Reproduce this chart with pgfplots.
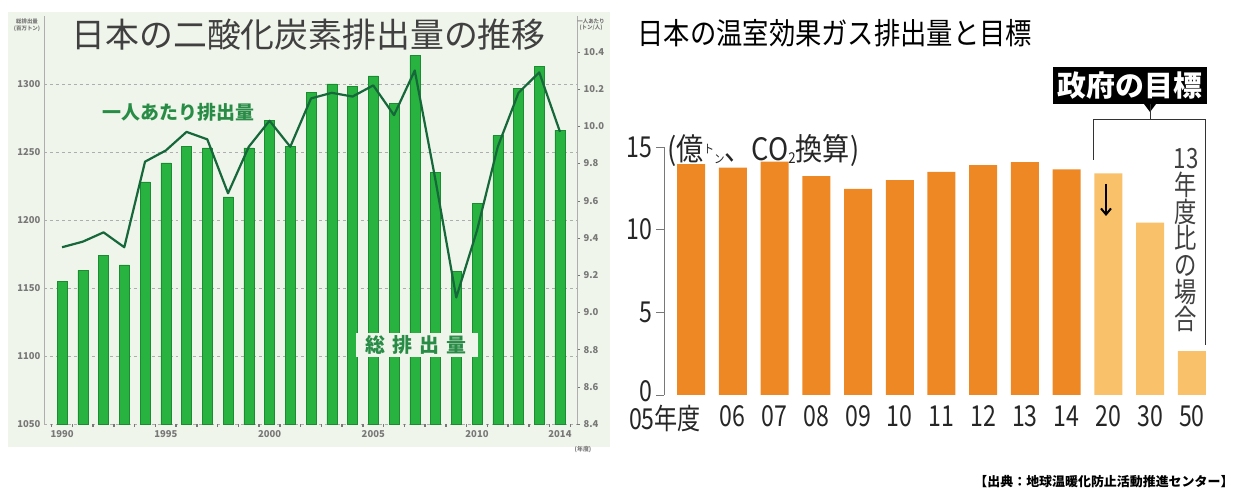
\documentclass[border=0pt]{standalone}
\usepackage{fontspec}
\setmainfont{Noto Sans CJK JP}
\newfontfamily\cond[FakeStretch=0.8]{Noto Sans CJK JP}
\newfontfamily\condt[FakeStretch=0.88]{Noto Sans CJK JP}
\usepackage{pgfplots}
\pgfplotsset{compat=1.18}
\usetikzlibrary{arrows.meta}

\definecolor{bgc}{RGB}{239,245,234}
\definecolor{barg}{RGB}{40,178,64}
\definecolor{barge}{RGB}{28,140,50}
\definecolor{lineg}{RGB}{22,104,58}
\definecolor{labg}{RGB}{40,140,70}
\definecolor{orgd}{RGB}{238,136,36}
\definecolor{orgl}{RGB}{248,193,106}
\definecolor{tickg}{RGB}{120,120,120}

\pgfplotstableread{
year total
1990 1155
1991 1163
1992 1174
1993 1167
1994 1228
1995 1242
1996 1254
1997 1253
1998 1217
1999 1253
2000 1273
2001 1254
2002 1294
2003 1300
2004 1298
2005 1306
2006 1286
2007 1321
2008 1235
2009 1162
2010 1212
2011 1262
2012 1297
2013 1313
2014 1266
}\totaltab

\pgfplotstableread{
year percap
1990 9.35
1991 9.38
1992 9.43
1993 9.35
1994 9.81
1995 9.87
1996 9.97
1997 9.93
1998 9.64
1999 9.89
2000 10.03
2001 9.89
2002 10.15
2003 10.18
2004 10.16
2005 10.22
2006 10.06
2007 10.30
2008 9.71
2009 9.08
2010 9.44
2011 9.89
2012 10.18
2013 10.29
2014 9.97
}\capitatab

\pgfplotstableread{
x val
0 13.97
1 13.75
2 14.12
3 13.24
4 12.46
5 13.00
6 13.50
7 13.90
8 14.08
9 13.64
}\ghgpast

\pgfplotstableread{
x val
10 13.40
11 10.42
12 2.65
}\ghgtarget

\begin{document}
\begin{tikzpicture}[x=1bp,y=1bp]
\path[use as bounding box] (0,0) rectangle (1237,492);
\fill[bgc] (8,45) rectangle (610,480);

% left chart: total emissions (bars)
\begin{axis}[at={(44bp,68bp)}, anchor=south west, scale only axis,
  width=533bp, height=408bp,
  xmin=1989.13, xmax=2014.82, ymin=1050, ymax=1350,
  axis x line*=bottom, axis y line*=left,
  y axis line style={-, tickg!60, line width=0.8bp},
  x axis line style={draw=none},
  ytick={1050,1100,...,1300},
  xtick={1990,1995,2000,2005,2010,2014},
  minor xtick={1989.5,1990.5,...,2014.5},
  major tick length=0pt, minor tick length=3bp, tick align=inside,
  minor x tick style={tickg, line width=1.5bp},
  ymajorgrids, grid style={dashed, tickg!60, line width=0.6bp},
  tick label style={font=\bfseries\fontsize{9.5}{9.5}\selectfont, text=tickg},
  xticklabel style={yshift=-3bp},
  /pgf/number format/assume math mode=true,
  /pgf/number format/1000 sep={},
  ybar, bar width=10bp,
  clip=false]
\addplot[fill=barg, draw=barge, line width=0.5bp, bar shift=0pt] table[x=year, y=total] {\totaltab};
\end{axis}

% left chart: per capita (line, right axis)
\begin{axis}[at={(44bp,68bp)}, anchor=south west, scale only axis,
  width=533bp, height=408bp,
  xmin=1989.13, xmax=2014.82, ymin=8.4, ymax=10.593,
  axis y line*=right, axis x line=none,
  y axis line style={-, tickg!60, line width=0.8bp},
  ytick={8.4,8.6,8.8,9.0,9.2,9.4,9.6,9.8,10.0,10.2,10.4},
  yticklabel style={font=\bfseries\fontsize{9.5}{9.5}\selectfont, text=tickg,
    /pgf/number format/.cd, fixed, fixed zerofill, precision=1},
  ytick style={tickg}, major tick length=3bp, tick align=outside,
  /pgf/number format/assume math mode=true]
\addplot[color=lineg, line width=2.2bp, line join=round] table[x=year, y=percap] {\capitatab};
\end{axis}

% left chart texts
\node[anchor=west, font=\fontsize{34}{34}\selectfont, text=black!75] at (68,457) {日本の二酸化炭素排出量の推移};
\node[anchor=west, font=\bfseries\fontsize{19}{19}\selectfont, text=labg] at (99,380) {一人あたり排出量};
\fill[bgc] (356,135) rectangle (478,159);
\node[anchor=west, font=\bfseries\fontsize{20}{20}\selectfont, text=labg] at (362,147) {総\kern7bp 排\kern7bp 出\kern7bp 量};
\node[align=center, font=\bfseries\fontsize{5.5}{6.5}\selectfont, text=tickg] at (27,467) {総排出量\\(百万トン)};
\node[align=center, font=\bfseries\fontsize{5.5}{6.5}\selectfont, text=tickg] at (591,467) {一人あたり\\(トン/人)};
\node[font=\bfseries\fontsize{6}{6}\selectfont, text=tickg] at (583,42) {(年度)};

% right chart: greenhouse gas emissions and targets
\begin{axis}[at={(664bp,97bp)}, anchor=south west, scale only axis,
  width=553bp, height=248bp,
  xmin=-0.647, xmax=12.6, ymin=0, ymax=15,
  axis y line*=left, axis x line*=bottom,
  y axis line style={-, tickg, line width=0.8bp},
  x axis line style={draw=none},
  ytick={0,5,10,15},
  yticklabels={\raisebox{7bp}{0},5,10,15},
  xtick={0,...,12},
  xticklabels={{05年度\kern52bp},06,07,08,09,10,11,12,13,14,20,30,50},
  x tick style={draw=none},
  y tick style={tickg, line width=0.8bp},
  major tick length=8bp, tick align=outside,
  tick label style={font=\cond\fontsize{29}{29}\selectfont, text=black!85},
  xticklabel style={yshift=1bp},
  /pgf/number format/assume math mode=true,
  ybar, bar width=28bp,
  clip=false]
\addplot[fill=orgd, draw=none, bar shift=0pt] table[x=x, y=val] {\ghgpast};
\addplot[fill=orgl, draw=none, bar shift=0pt] table[x=x, y=val] {\ghgtarget};
\end{axis}

% right chart texts and annotations
\node[anchor=west, font=\condt\fontsize{30}{30}\selectfont, text=black] at (634,459) {日本の温室効果ガス排出量と目標};
\node[anchor=west, font=\condt\fontsize{31}{31}\selectfont, text=black!85, inner sep=0pt] at (667,342)
  {(億\raisebox{7bp}{\fontsize{12}{12}\selectfont ト}\raisebox{-3bp}{\fontsize{12}{12}\selectfont ン}、CO\raisebox{-3bp}{\fontsize{15}{15}\selectfont 2}換算)};
\node[fill=black, text=white, font=\bfseries\fontsize{29}{29}\selectfont, inner xsep=5bp, inner ysep=3bp, minimum height=37bp] at (1130,406) {政府の目標};
\fill[black] (1144,388) -- (1156,388) -- (1150,380) -- cycle;
\draw[black!80, line width=1bp] (1150,388) -- (1150,372);
\draw[black!80, line width=1bp] (1093,332) -- (1093,372) -- (1205,372) -- (1205,147);
\node[align=center, font=\cond\fontsize{28}{28}\selectfont, text=black!75, inner sep=0pt] at (1186,252)
  {13\\[-1bp]年\\[-1bp]度\\[-1bp]比\\[-1bp]の\\[-1bp]場\\[-1bp]合};
\draw[black, line width=2bp, -{Straight Barb[length=6bp, width=10bp]}] (1106,308) -- (1106,276);
\node[anchor=east, font=\bfseries\fontsize{13}{13}\selectfont, text=black] at (1237,10) {【出典：地球温暖化防止活動推進センター】};
\end{tikzpicture}
\end{document}
